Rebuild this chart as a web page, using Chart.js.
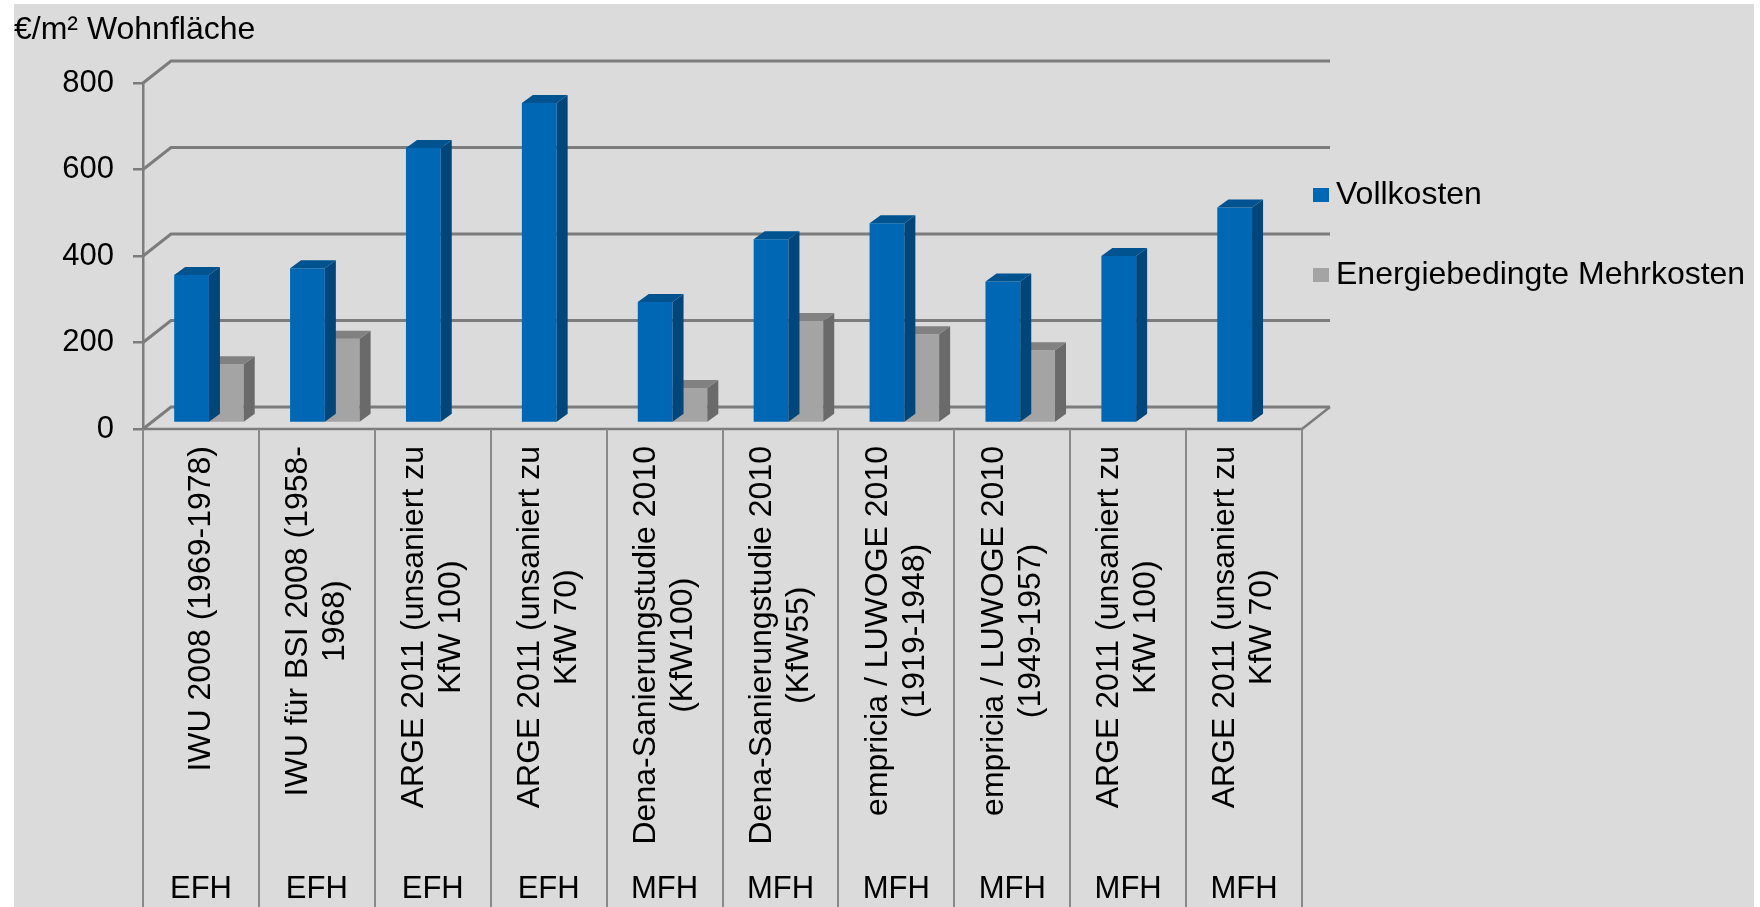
<!DOCTYPE html>
<html>
<head>
<meta charset="utf-8">
<script src="https://cdn.jsdelivr.net/npm/chart.js@4"></script>
<style>
  html, body { margin: 0; padding: 0; background: #fff; }
  #wrap { width: 1760px; height: 907px; }
</style>
</head>
<body>
<div id="wrap"><canvas id="chart"></canvas></div>
<script>
// Daten
const quellen = [
  ['IWU 2008 (1969-1978)'],
  ['IWU für BSI 2008 (1958-', '1968)'],
  ['ARGE 2011 (unsaniert zu', 'KfW 100)'],
  ['ARGE 2011 (unsaniert zu', 'KfW 70)'],
  ['Dena-Sanierungstudie 2010', '(KfW100)'],
  ['Dena-Sanierungstudie 2010', '(KfW55)'],
  ['empricia / LUWOGE 2010', '(1919-1948)'],
  ['empricia / LUWOGE 2010', '(1949-1957)'],
  ['ARGE 2011 (unsaniert zu', 'KfW 100)'],
  ['ARGE 2011 (unsaniert zu', 'KfW 70)']
];
const gebaeude = ['EFH', 'EFH', 'EFH', 'EFH', 'MFH', 'MFH', 'MFH', 'MFH', 'MFH', 'MFH'];
const vollkosten = [342, 358, 636, 740, 280, 425, 462, 327, 386, 498];
const mehrkosten = [136, 195, null, null, 81, 236, 205, 168, null, null];
const yTicks = [0, 200, 400, 600, 800];
const einheit = '€/m² Wohnfläche';

const FONT = '"Liberation Sans", Arial, sans-serif';
const WALL = { dx: 28, dy: -22 };   // Rückwand
const SHIFT = { dx: 8, dy: -6 };    // Ebene der Säulen
const DEPTH = { dx: 11, dy: -8 };   // Säulentiefe
const LINE = '#7c7c7c';

const deko = {
  id: 'deko',
  beforeDraw(chart) {
    const c = chart.ctx;
    c.save();
    c.fillStyle = '#dbdbdb';
    c.fillRect(14, 4, 1740, 903);
    c.restore();
  },
  beforeDatasetsDraw(chart) {
    const c = chart.ctx, a = chart.chartArea, y = chart.scales.y, x = chart.scales.x;
    c.save();
    c.strokeStyle = LINE;
    c.lineWidth = 3;
    y.ticks.forEach(t => {
      const py = y.getPixelForValue(t.value);
      c.beginPath();
      c.moveTo(a.left, py);
      c.lineTo(a.left + WALL.dx, py + WALL.dy);
      c.lineTo(a.right + WALL.dx, py + WALL.dy);
      c.stroke();
    });
    c.lineWidth = 2.5;
    c.beginPath();
    c.moveTo(a.left, a.bottom);
    c.lineTo(a.right, a.bottom);
    c.lineTo(a.right + WALL.dx, a.bottom + WALL.dy);
    c.stroke();

    // Zellen der Kategorieachse
    const half = (x.getPixelForValue(1) - x.getPixelForValue(0)) / 2;
    c.strokeStyle = '#8a8a8a';
    c.lineWidth = 2;
    for (let i = 0; i <= quellen.length; i++) {
      const px = Math.round(x.getPixelForValue(i) - half);
      c.beginPath();
      c.moveTo(px, a.bottom);
      c.lineTo(px, chart.height);
      c.stroke();
    }
    c.restore();

    c.save();
    c.translate(SHIFT.dx, SHIFT.dy);
  },
  afterDatasetDraw(chart, args) {
    const c = chart.ctx, ds = chart.data.datasets[args.index];
    c.save();
    args.meta.data.forEach((bar, j) => {
      if (ds.data[j] == null) return;
      const p = bar.getProps(['x', 'y', 'base', 'width'], true);
      const l = p.x - p.width / 2, r = p.x + p.width / 2, t = p.y, b = p.base;
      c.fillStyle = ds.sideColor;
      c.beginPath();
      c.moveTo(r, t);
      c.lineTo(r + DEPTH.dx, t + DEPTH.dy);
      c.lineTo(r + DEPTH.dx, b + DEPTH.dy);
      c.lineTo(r, b);
      c.closePath();
      c.fill();
      c.fillStyle = ds.topColor;
      c.beginPath();
      c.moveTo(l, t);
      c.lineTo(l + DEPTH.dx, t + DEPTH.dy);
      c.lineTo(r + DEPTH.dx, t + DEPTH.dy);
      c.lineTo(r, t);
      c.closePath();
      c.fill();
    });
    c.restore();
  },
  afterDatasetsDraw(chart) {
    chart.ctx.restore();
  },
  afterDraw(chart) {
    const c = chart.ctx, x = chart.scales.x;
    c.save();
    c.fillStyle = '#000';

    // Titel der y-Achse
    c.font = '32px ' + FONT;
    c.textAlign = 'left';
    c.textBaseline = 'alphabetic';
    c.fillText(einheit, 14, 39);

    // Quellen, senkrecht
    const LH = 37, top = 446;
    c.font = '32px ' + FONT;
    c.textAlign = 'center';
    c.textBaseline = 'middle';
    quellen.forEach((lines, i) => {
      const cx = x.getPixelForValue(i);
      const maxW = Math.max(...lines.map(s => c.measureText(s).width));
      c.save();
      c.translate(cx, top + maxW / 2);
      c.rotate(-Math.PI / 2);
      lines.forEach((s, k) => c.fillText(s, 0, (k - (lines.length - 1) / 2) * LH));
      c.restore();
    });

    // Gebäudetyp
    c.font = '31px ' + FONT;
    c.textBaseline = 'alphabetic';
    gebaeude.forEach((g, i) => c.fillText(g, x.getPixelForValue(i), 898));

    // Legende
    c.font = '32px ' + FONT;
    c.textAlign = 'left';
    c.textBaseline = 'middle';
    const legY = [195, 275];
    chart.data.datasets.forEach((ds, k) => {
      c.fillStyle = ds.backgroundColor;
      c.fillRect(1313, legY[k] - 7, 16, 14);
      c.fillStyle = '#000';
      c.fillText(ds.label, 1336, legY[k]);
    });
    c.restore();
  }
};

new Chart(document.getElementById('chart').getContext('2d'), {
  type: 'bar',
  data: {
    labels: gebaeude,
    datasets: [
      { label: 'Vollkosten', data: vollkosten, backgroundColor: '#0067b4', sideColor: '#00467b', topColor: '#00538f' },
      { label: 'Energiebedingte Mehrkosten', data: mehrkosten, backgroundColor: '#a4a4a4', sideColor: '#6a6a6a', topColor: '#818181' }
    ]
  },
  options: {
    responsive: true,
    maintainAspectRatio: false,
    animation: false,
    layout: { padding: { left: 0, top: 83, right: 458, bottom: 478 } },
    datasets: { bar: { categoryPercentage: 0.6, barPercentage: 1, clip: false } },
    scales: {
      x: { display: false },
      y: {
        min: 0,
        max: 800,
        afterFit: s => { s.width = 143; },
        afterBuildTicks: s => { s.ticks = yTicks.map(v => ({ value: v })); },
        ticks: { padding: 19, color: '#000', font: { family: FONT, size: 31 } },
        grid: { drawOnChartArea: false, drawTicks: true, tickLength: 10, color: LINE, lineWidth: 2.5 },
        border: { color: LINE, width: 2.5 }
      }
    },
    plugins: { legend: { display: false }, tooltip: { enabled: false } }
  },
  plugins: [deko]
});
</script>
</body>
</html>
